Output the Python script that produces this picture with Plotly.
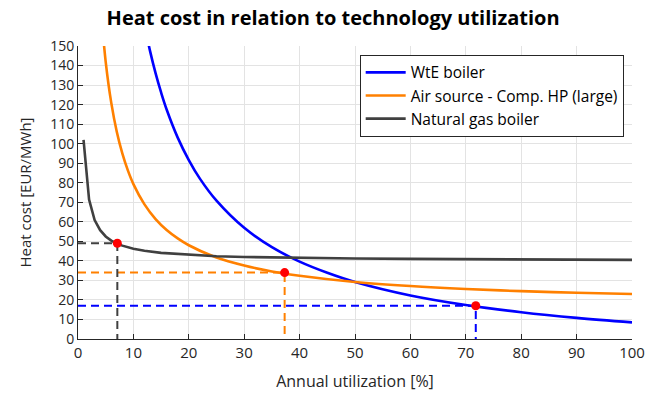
import plotly.graph_objects as go

# Natural gas boiler
gas_u = [1, 2, 3, 4, 5, 6, 7, 8, 10, 12, 15, 20, 25, 30, 40, 50, 60, 70, 80, 90, 100]
gas_cost = [102, 71.4, 60.9, 55.7, 52.5, 50.4, 48.9, 47.8, 46.2, 45.2, 44.1, 43.1, 42.4, 42.0,
            41.5, 41.2, 41.0, 40.8, 40.7, 40.6, 40.5]

# Air source - Comp. HP (large)
air_u = [4, 5, 6, 7, 8, 9, 10, 12, 14, 16, 18, 20, 25, 30, 35, 40, 50, 60, 70, 80, 90, 100]
air_cost = [173.2, 141.9, 121.0, 106.1, 95.0, 86.3, 79.3, 68.9, 61.4, 55.8, 51.5, 48.0, 41.7,
            37.6, 34.6, 32.4, 29.2, 27.1, 25.6, 24.5, 23.7, 23.0]

# WtE boiler
wte_u = [12, 13, 14, 15, 16, 18, 20, 22, 25, 30, 35, 40, 45, 50, 60, 70, 80, 90, 100]
wte_cost = [160.8, 147.5, 136.1, 126.2, 117.5, 103.1, 91.6, 82.1, 70.8, 56.9, 47.0, 39.6, 33.9,
            29.2, 22.3, 17.4, 13.7, 10.8, 8.5]

# Operating points
op_names = ["WtE boiler", "Air source - Comp. HP (large)", "Natural gas boiler"]
op_u = [71.8, 37.3, 7.1]
op_cost = [17, 34, 49]

colors = {"WtE boiler": "#0000FF", "Air source - Comp. HP (large)": "#FF8000",
          "Natural gas boiler": "#404040"}

FONT = "Open Sans"
fig = go.Figure()

series = [("WtE boiler", wte_u, wte_cost),
          ("Air source - Comp. HP (large)", air_u, air_cost),
          ("Natural gas boiler", gas_u, gas_cost)]

# dashed guide lines
for name, u, c in zip(op_names, op_u, op_cost):
    fig.add_trace(go.Scatter(x=[0, u, u], y=[c, c, 0], mode="lines", showlegend=False,
                             line=dict(color=colors[name], width=2, dash="8px,5px"),
                             hoverinfo="skip"))

for name, u, c in series:
    fig.add_trace(go.Scatter(x=u, y=c, mode="lines", name=name,
                             line=dict(color=colors[name], width=2.6,
                                       shape="spline" if name != "Natural gas boiler" else "linear")))

fig.add_trace(go.Scatter(x=op_u, y=op_cost, mode="markers", showlegend=False,
                         marker=dict(color="#FF0000", size=9)))

fig.update_layout(
    width=657, height=399,
    margin=dict(l=78, r=24, t=46, b=58),
    paper_bgcolor="white", plot_bgcolor="white",
    font=dict(family=FONT, size=15, color="#262626"),
    title=dict(text="<b>Heat cost in relation to technology utilization</b>",
               x=0.507, xanchor="center", y=0.955, yanchor="middle",
               font=dict(family=FONT, size=20, color="#000000")),
    legend=dict(x=0.985, xanchor="right", y=0.97, yanchor="top",
                bgcolor="white", bordercolor="#262626", borderwidth=1,
                font=dict(size=15.5, color="#000000"), tracegroupgap=0,
                itemwidth=40),
    showlegend=True,
)
fig.update_xaxes(range=[0, 100], dtick=10, tick0=0, showgrid=True, gridcolor="#E3E3E3",
                 showline=True, linecolor="#262626", linewidth=1, ticks="inside",
                 ticklen=5, tickcolor="#262626", zeroline=False, tickfont=dict(size=15),
                 title=dict(text="Annual utilization [%]", font=dict(size=16), standoff=14))
fig.update_yaxes(range=[0, 150], dtick=10, tick0=0, showgrid=True, gridcolor="#E3E3E3",
                 showline=True, linecolor="#262626", linewidth=1, ticks="inside",
                 ticklen=5, tickcolor="#262626", zeroline=False, tickfont=dict(size=14),
                 title=dict(text="Heat cost [EUR/MWh]", font=dict(size=15), standoff=14))

fig.write_html("out.html")
